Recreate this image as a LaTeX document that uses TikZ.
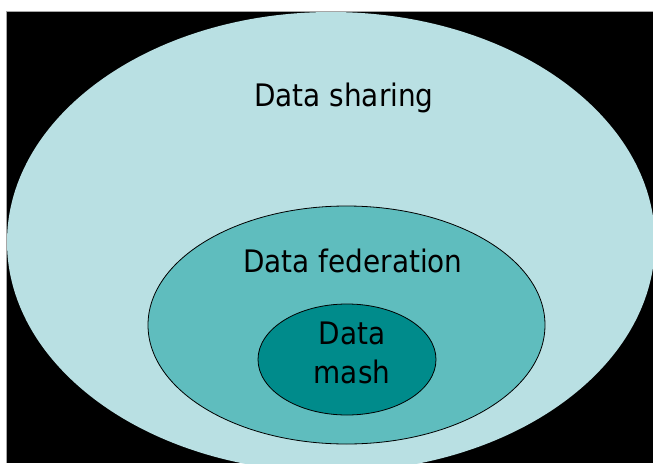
\documentclass[tikz,border=0pt]{standalone}
\usepackage{fontspec}
\setmainfont{DejaVu Sans Condensed}
\usetikzlibrary{shapes.geometric}
\definecolor{sharecol}{RGB}{185,224,227}
\definecolor{fedcol}{RGB}{95,189,190}
\definecolor{mashcol}{RGB}{0,139,139}

\begin{document}
\begin{tikzpicture}[x=1pt,y=-1pt,
  blob/.style={shape=ellipse, inner sep=0pt, line width=0.8pt},
  word/.style={font=\fontsize{31}{39}\selectfont, inner sep=0pt}]
\useasboundingbox (0,0) rectangle (653,463);
\fill[white] (0,0) rectangle (653,463);
\fill[black] (6,11) rectangle (653,463);
\draw[gray!70, line width=0.8pt] (6,463)--(6,11)--(653,11);

\begin{scope}
\clip (6.5,11.5) rectangle (653,463);
\node[blob, fill=sharecol, minimum width=648pt, minimum height=460pt] (share) at (331,242) {};
\end{scope}
\node[blob, draw=black, fill=fedcol, minimum width=397pt, minimum height=238pt] (fed) at (346.5,325) {};
\node[blob, draw=black, fill=mashcol, minimum width=178pt, minimum height=111pt] (mash) at (347,359.5) {};

\node[word, anchor=base] (sharetxt) at (344,106) {Data sharing};
\node[word, anchor=base] (fedtxt) at (353,272) {Data federation};
\node[word, align=center] (mashtxt) at (352,353) {Data\\mash};
\end{tikzpicture}
\end{document}
